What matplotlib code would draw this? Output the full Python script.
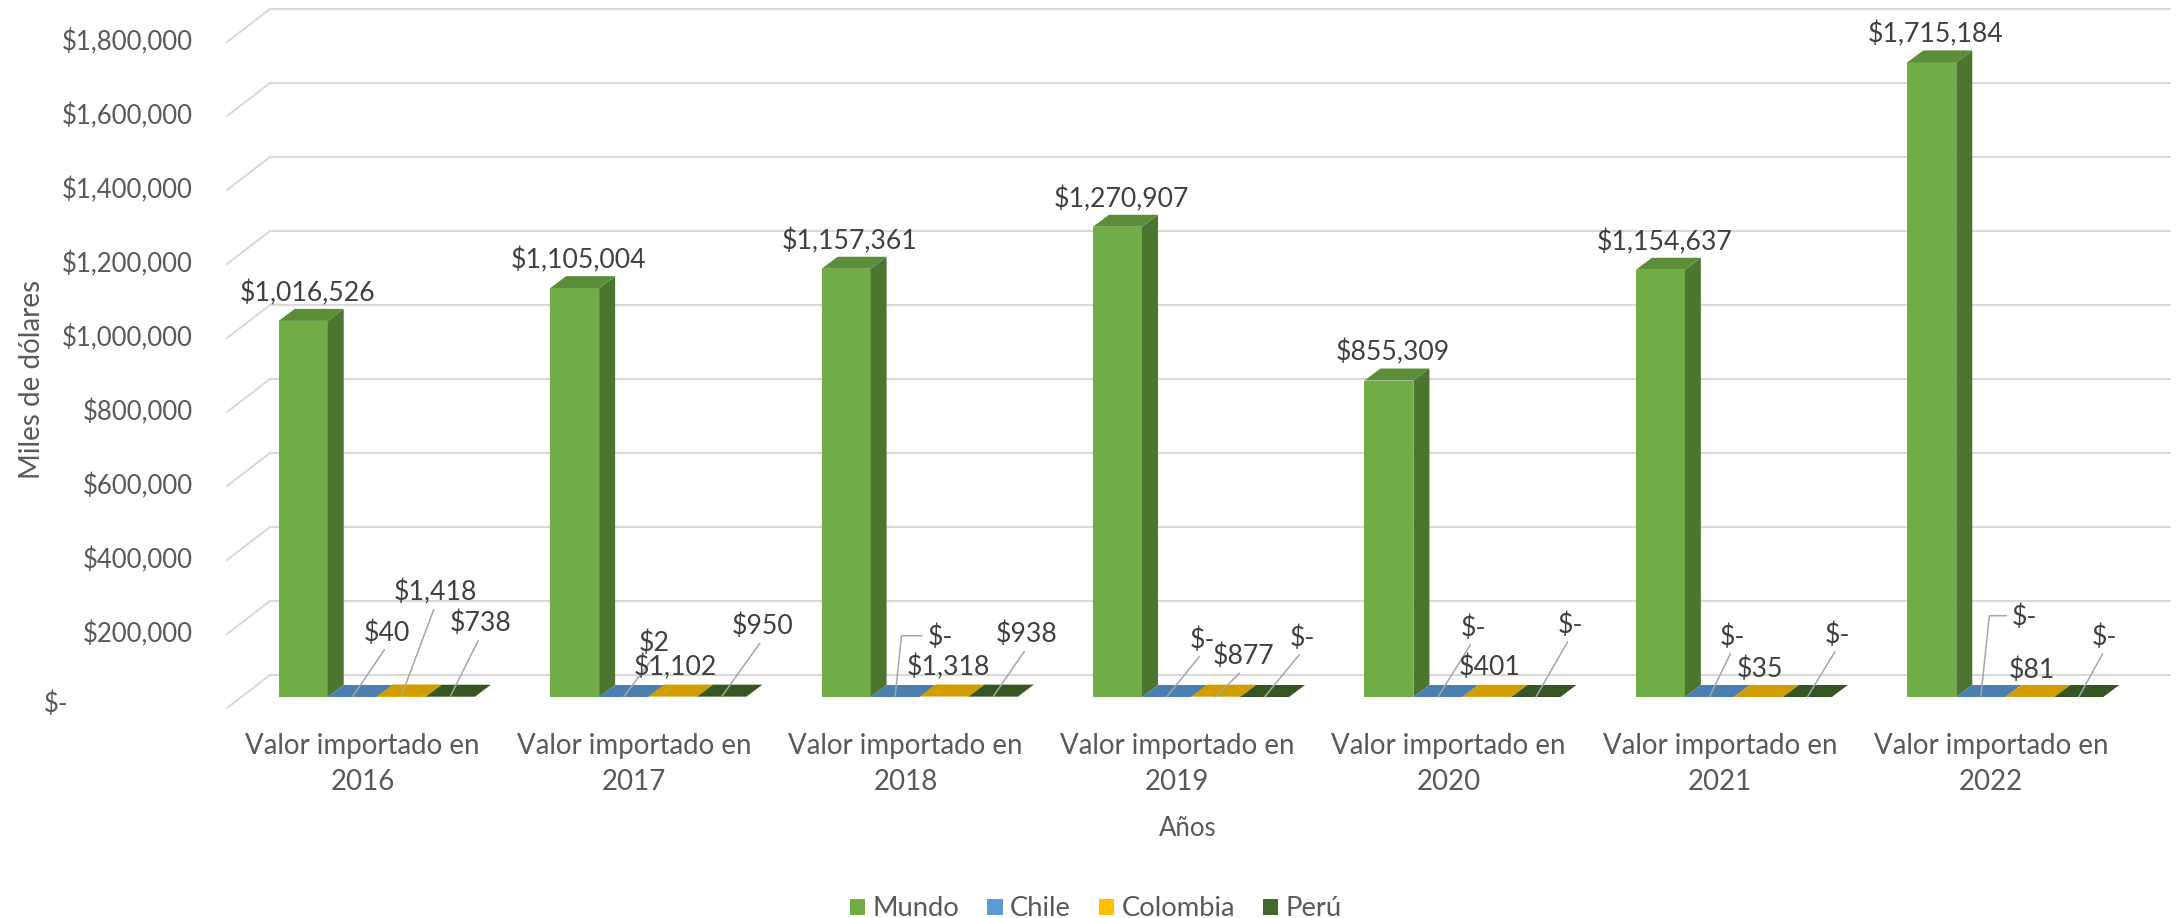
import matplotlib
matplotlib.use("Agg")
import matplotlib.pyplot as plt
import matplotlib.transforms as mtransforms
from matplotlib.patches import Polygon, Patch
import numpy as np

plt.rcParams['font.family'] = ['Lato', 'DejaVu Sans']

# ---------------- data ----------------
categories = ["Valor importado en\n2016", "Valor importado en\n2017", "Valor importado en\n2018",
              "Valor importado en\n2019", "Valor importado en\n2020", "Valor importado en\n2021",
              "Valor importado en\n2022"]
series_names = ["Mundo", "Chile", "Colombia", "Perú"]
mundo = [1016526, 1105004, 1157361, 1270907, 855309, 1154637, 1715184]
chile = [40, 2, 0, 0, 0, 0, 0]
colombia = [1418, 1102, 1318, 877, 401, 35, 81]
peru = [738, 950, 938, 0, 0, 0, 0]
yticks = [0, 200000, 400000, 600000, 800000, 1000000, 1200000, 1400000, 1600000, 1800000]
x_title = "Años"
y_title = "Miles de dólares"

# ---------------- style / layout ----------------
colors = ["#70AD47", "#5B9BD5", "#FFC000", "#43682B"]
grid_color = "#D9D9D9"
text_grey = "#595959"
label_dark = "#404040"
leader_color = "#A6A6A6"
FS = 18.5          # tick labels
FS_DL = 19.2       # data labels
FS_CAT = 19.9      # category labels
FS_LEG = 19.7      # legend
FS_YT = 20.0       # y title

# manual label placement for the small series: (dx px, dy px, leader: 0 none, 1 straight, 2 elbow)
small_label_layout = {
    "Chile":    [(35, 64, 1), (31, 54, 1), (45, 60, 2), (36, 57, 1), (35, 69, 1), (23, 60, 1), (44, 80, 2)],
    "Colombia": [(34, 104, 1), (3, 29, 0), (4, 29, 0), (28, 40, 1), (3, 30, 0), (2, 28, 0), (2, 27, 0)],
    "Perú":     [(30, 73, 1), (41, 70, 1), (34, 62, 1), (38, 59, 1), (34, 72, 1), (30, 62, 1), (26, 60, 1)],
}


def fmt(v):
    return "$-" if v == 0 else f"${v:,.0f}"


def shade(c, f):
    r, g, b = matplotlib.colors.to_rgb(c)
    return (r * f, g * f, b * f)


W, H, DPI = 2179, 918, 100
fig = plt.figure(figsize=(W / DPI, H / DPI), dpi=DPI)
fig.patch.set_facecolor("white")

AX_L, AX_R, AX_B, AX_T = 227, 2127, 708, 42   # pixel box of the front plane
ax = fig.add_axes([AX_L / W, 1 - AX_B / H, (AX_R - AX_L) / W, (AX_B - AX_T) / H])
xmin, xmax = -0.5, len(categories) - 0.5
ymin, ymax = 0, yticks[-1]
ax.set_xlim(xmin, xmax)
ax.set_ylim(ymin, ymax)
for s in ax.spines.values():
    s.set_visible(False)
ax.set_facecolor("none")

ppx = (AX_R - AX_L) / (xmax - xmin)
ppy = (AX_B - AX_T) / (ymax - ymin)


def dxp(p):
    return p / ppx


def dyp(p):
    return p / ppy


FDX, FDY = dxp(43), dyp(33)      # wall depth
BDX, BDY = dxp(14), dyp(11)      # bar front plane shift
DDX, DDY = dxp(16), dyp(12)      # bar depth
w = dxp(49)

# walls / gridlines
for v in yticks:
    ax.plot([xmin, xmin + FDX], [v, v + FDY], color=grid_color, lw=1.5, clip_on=False, zorder=0)
    ax.plot([xmin + FDX, xmax + FDX], [v + FDY, v + FDY], color=grid_color, lw=1.5,
            clip_on=False, zorder=0)

# bars
x = np.arange(len(categories))
all_series = [mundo, chile, colombia, peru]
for j, vals in enumerate(all_series):
    x0 = x + BDX - 2 * w + j * w
    cont = ax.bar(x0, vals, width=w, bottom=BDY, align="edge", color=colors[j], linewidth=0)
    for i, (rect, v) in enumerate(zip(cont.patches, vals)):
        z = 2 + 0.01 * (i * 4 + j)
        rect.set_zorder(z)
        xl, xr = x0[i], x0[i] + w
        yb, yt = BDY, BDY + v
        side = Polygon([(xr, yb), (xr + DDX, yb + DDY), (xr + DDX, yt + DDY), (xr, yt)],
                       closed=True, facecolor=shade(colors[j], 0.68), linewidth=0, zorder=z)
        top = Polygon([(xl, yt), (xr, yt), (xr + DDX, yt + DDY), (xl + DDX, yt + DDY)],
                      closed=True, facecolor=shade(colors[j], 0.82), linewidth=0, zorder=z)
        ax.add_patch(side)
        ax.add_patch(top)

        xc = xl + w / 2
        if j == 0:
            ax.annotate(fmt(v), xy=(xc, yt), xytext=(4, 28), textcoords="offset pixels",
                        ha="center", va="center", fontsize=FS_DL, color=label_dark, zorder=10)
        else:
            dx, dy, lead = small_label_layout[series_names[j]][i]
            kw = {}
            if lead == 1:
                kw["arrowprops"] = dict(arrowstyle="-", color=leader_color, lw=1.1,
                                        shrinkA=1, shrinkB=0, relpos=(0.5, 0.0))
            elif lead == 2:
                kw["arrowprops"] = dict(arrowstyle="-", color=leader_color, lw=1.1,
                                        shrinkA=2, shrinkB=0, relpos=(0.0, 0.55),
                                        connectionstyle="angle,angleA=0,angleB=84,rad=0")
            ax.annotate(fmt(v), xy=(xc, yt), xytext=(dx, dy), textcoords="offset pixels",
                        ha="center", va="center", fontsize=FS_DL, color=label_dark, zorder=10, **kw)

# y tick labels (drawn as text on the front edge)
ax.set_yticks([])
ytrans = mtransforms.blended_transform_factory(fig.transFigure, ax.transData)
for v in yticks:
    if v == 0:
        ax.text(44 / W, v + dyp(4), fmt(v), transform=ytrans, ha="left", va="center",
                fontsize=FS, color=text_grey)
    else:
        ax.text(193 / W, v, fmt(v), transform=ytrans, ha="right", va="center",
                fontsize=FS, color=text_grey)

# x tick labels
ax.set_xticks(x)
ax.set_xticklabels(categories, fontsize=FS_CAT, color=text_grey, linespacing=1.49)
ax.tick_params(axis="x", length=0, pad=18)

# axis titles
fig.text(32 / W, 1 - 379 / H, y_title, rotation=90, ha="center", va="center",
         fontsize=FS_YT, color=text_grey)
fig.text(1188 / W, 1 - 828 / H, x_title, ha="center", va="center", fontsize=FS, color=text_grey)

# legend
handles = [Patch(facecolor=c, edgecolor="none") for c in colors]
leg = fig.legend(handles, series_names, loc="center", bbox_to_anchor=(1096 / W, 1 - 909 / H),
                 ncol=4, frameon=False, fontsize=FS_LEG, handlelength=0.55, handleheight=0.55,
                 handletextpad=0.28, columnspacing=1.02, borderaxespad=0, borderpad=0)
for t in leg.get_texts():
    t.set_color(text_grey)

fig.savefig("out.png", dpi=DPI, facecolor="white")
